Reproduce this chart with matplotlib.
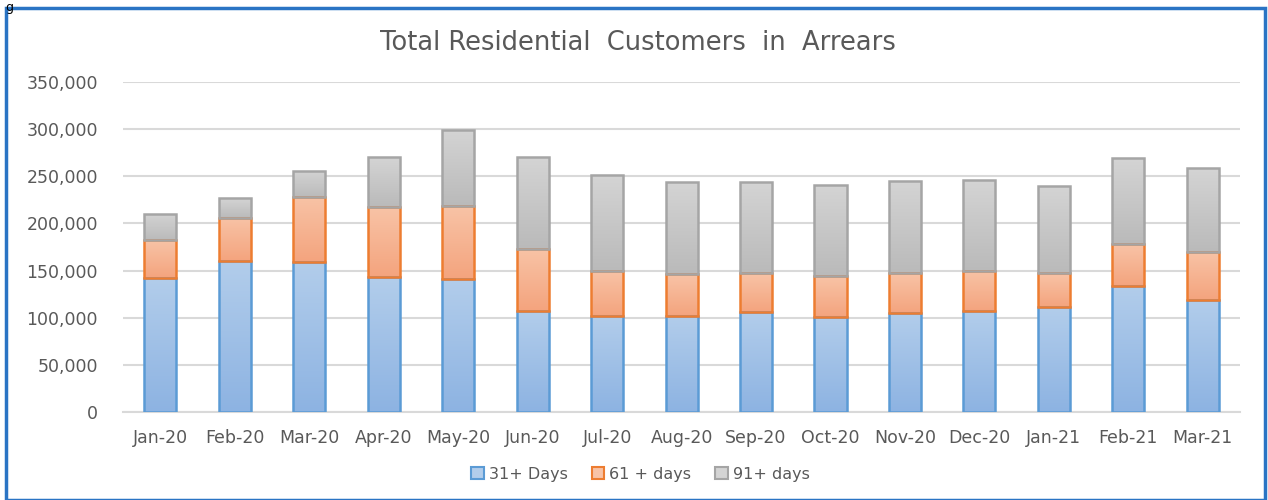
import matplotlib.pyplot as plt
import numpy as np
from matplotlib.colors import LinearSegmentedColormap
from matplotlib.patches import Patch, Rectangle
from matplotlib.ticker import FuncFormatter

plt.rcParams['font.family'] = ['DejaVu Sans']

months = ["Jan-20", "Feb-20", "Mar-20", "Apr-20", "May-20", "Jun-20", "Jul-20",
          "Aug-20", "Sep-20", "Oct-20", "Nov-20", "Dec-20", "Jan-21", "Feb-21", "Mar-21"]
days_31 = [142000, 160000, 159000, 143000, 141000, 107000, 102000,
           102000, 106000, 101000, 105000, 107000, 111000, 134000, 119000]
days_61 = [40000, 46000, 69000, 74000, 77000, 66000, 48000,
           44000, 41000, 43000, 42000, 43000, 36000, 44000, 51000]
days_91 = [28000, 21000, 28000, 53000, 81000, 97000, 101000,
           98000, 97000, 97000, 98000, 96000, 93000, 91000, 89000]
labels = ["31+ Days", "61 + days", "91+ days"]

# (light top, dark bottom, edge)
styles = [("#b2cdeb", "#8db3e2", "#5b9bd5"),
          ("#f8c3a6", "#f4a47e", "#ed7d31"),
          ("#d4d4d4", "#bababa", "#a5a5a5")]

fig = plt.figure(figsize=(12.68, 5.0), dpi=100)
ax = fig.add_axes([0.097, 0.176, 0.881, 0.66])

x = np.arange(len(months))
width = 0.43
bottom = np.zeros(len(months))
for vals, (c_top, c_bot, c_edge) in zip([days_31, days_61, days_91], styles):
    cmap = LinearSegmentedColormap.from_list("g", [c_bot, c_top])
    grad = np.linspace(0, 1, 64).reshape(-1, 1)
    bars = ax.bar(x, vals, width, bottom=bottom, color="none",
                  edgecolor=c_edge, linewidth=1.8, zorder=4)
    for b in bars:
        x0, y0 = b.get_x(), b.get_y()
        im = ax.imshow(grad, cmap=cmap, origin="lower", aspect="auto",
                       extent=[x0, x0 + b.get_width(), y0, y0 + b.get_height()],
                       zorder=3)
        im.set_clip_path(b)
    bottom += np.array(vals)

ax.set_xlim(-0.5, len(months) - 0.5)
ax.set_ylim(0, 350000)
ax.set_yticks(np.arange(0, 350001, 50000))
ax.yaxis.set_major_formatter(FuncFormatter(lambda v, p: f"{int(v):,}"))
ax.set_xticks(x)
ax.set_xticklabels(months)
ax.grid(axis="y", color="#d9d9d9", linewidth=1.5, zorder=0)
ax.set_axisbelow(True)
for s in ["top", "right", "left"]:
    ax.spines[s].set_visible(False)
ax.spines["bottom"].set_color("#d9d9d9")
ax.spines["bottom"].set_linewidth(1.5)
ax.tick_params(length=0, labelsize=12.5, colors="#595959")
ax.tick_params(axis="x", pad=12)
ax.tick_params(axis="y", pad=18)

fig.text(0.503, 0.915, "Total Residential  Customers  in  Arrears", fontsize=18.5,
         color="#595959", ha="center", va="center")

handles = [Patch(facecolor=s[0], edgecolor=s[2], linewidth=1.5) for s in styles]
fig.legend(handles, labels, loc="center", bbox_to_anchor=(0.505, 0.052), ncol=3,
           frameon=False, fontsize=11.5, labelcolor="#595959",
           handlelength=0.8, handleheight=0.8, handletextpad=0.3, columnspacing=1.5)

# blue frame around the chart
fig.patches.append(Rectangle((6 / 1268, 0), 1259 / 1268, 492 / 500, transform=fig.transFigure,
                             fill=False, edgecolor="#2a74c4", linewidth=2.5))
fig.text(0.004, 0.999, "g", fontsize=9, color="black", va="top")

fig.savefig("out.png", dpi=100)
